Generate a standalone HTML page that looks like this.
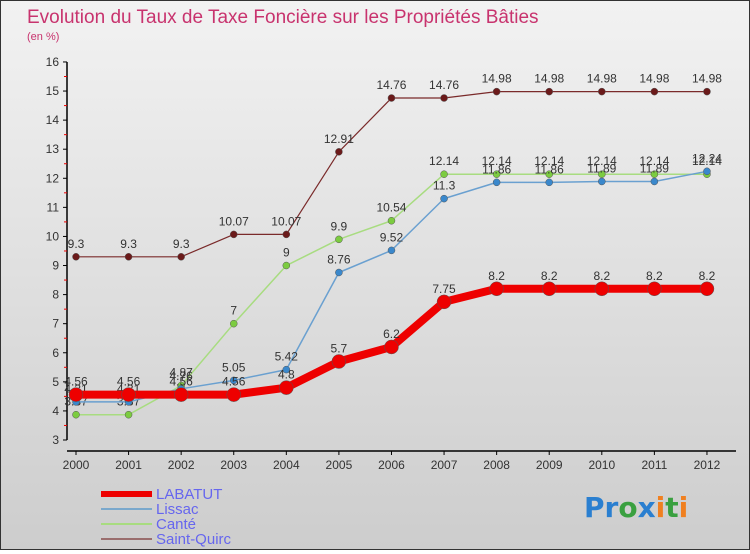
<!DOCTYPE html>
<html><head><meta charset="utf-8"><style>
body{margin:0;width:750px;height:550px;overflow:hidden;font-family:"Liberation Sans",sans-serif}
#c{position:absolute;left:0;top:0;width:748px;height:548px;border:1px solid #333;background:linear-gradient(#f2f2f2,#cdcdcd)}
</style></head><body>
<div id="c">
<svg id="s" width="748" height="548" font-family="Liberation Sans, sans-serif">
<text x="26" y="22" font-size="19" fill="#c8336e">Evolution du Taux de Taxe Foncière sur les Propriétés Bâties</text>
<text x="26" y="39" font-size="11" fill="#c8336e">(en %)</text>
<g id="axes"></g><g id="series"></g><g id="legend"></g>
<text x="583" y="516" font-size="28" font-family="DejaVu Sans, sans-serif" font-weight="bold"><tspan fill="#2a7fd0">Pr</tspan><tspan fill="#3aa040">o</tspan><tspan fill="#2a7fd0">x</tspan><tspan fill="#f08020">i</tspan><tspan fill="#3aa040">t</tspan><tspan fill="#f08020">i</tspan></text>
</svg></div>
<script>
const years=[2000,2001,2002,2003,2004,2005,2006,2007,2008,2009,2010,2011,2012];
const labatut=[4.56,4.56,4.56,4.56,4.8,5.7,6.2,7.75,8.2,8.2,8.2,8.2,8.2];
const lissac=[4.31,4.31,4.76,5.05,5.42,8.76,9.52,11.3,11.86,11.86,11.89,11.89,12.24];
const cante=[3.87,3.87,4.87,7,9,9.9,10.54,12.14,12.14,12.14,12.14,12.14,12.14];
const quirc=[9.3,9.3,9.3,10.07,10.07,12.91,14.76,14.76,14.98,14.98,14.98,14.98,14.98];
const yTicks=[3,4,5,6,7,8,9,10,11,12,13,14,15,16];
const NS='http://www.w3.org/2000/svg';
const X=i=>75+i*52.58, Y=v=>439-(v-3)*29.08;
function mk(p,t,a){const e=document.createElementNS(NS,t);for(const k in a)e.setAttribute(k,a[k]);p.appendChild(e);return e;}
const ax=document.getElementById('axes');
const yl=mk(ax,'line',{x1:66,y1:Y(16),x2:66,y2:439,stroke:'#000','stroke-width':1.5});


const xl=mk(ax,'line',{x1:66,y1:450,x2:735,y2:450,stroke:'#000','stroke-width':1.5});


yTicks.forEach(v=>{
 mk(ax,'line',{x1:62,x2:66,y1:Y(v),y2:Y(v),stroke:'#000'});
 if(v<16) mk(ax,'line',{x1:63,x2:66,y1:Y(v+0.5),y2:Y(v+0.5),stroke:'#e00'});
 const t=mk(ax,'text',{x:58,y:Y(v)+4,'font-size':12,'text-anchor':'end',fill:'#333'});
 t.textContent=v;
 
 
});
years.forEach((y,i)=>{
 mk(ax,'line',{x1:X(i),x2:X(i),y1:450,y2:454,stroke:'#000'});
 const t=mk(ax,'text',{x:X(i),y:468,'font-size':12,'text-anchor':'middle',fill:'#333'});
 t.textContent=y;
 
 
});
const sg=document.getElementById('series');
function draw(vals,name,color,w,r,dot){
 const g=mk(sg,'g',{});
 
 
 const l=mk(g,'polyline',{points:vals.map((v,i)=>X(i)+','+Y(v)).join(' '),fill:'none',stroke:color,'stroke-width':w,'stroke-linejoin':'round'});
 
 
 vals.forEach((v,i)=>{
  const c=mk(g,'circle',{cx:X(i),cy:Y(v),r:r,fill:dot,stroke:'#555','stroke-width':0.5});
  
  
  const t=mk(g,'text',{x:X(i),y:Y(v)-9,'font-size':12,'text-anchor':'middle',fill:'#333'});
  t.textContent=v;
  
  
 });
}
draw(quirc,'saint-quirc','#7a2a2a',1.2,3.5,'#6b1a1a');
draw(cante,'cante','#a8dc80',1.5,3.5,'#7ccc40');
draw(lissac,'lissac','#6aa0d0',1.5,3.5,'#3a88cc');
draw(labatut,'labatut','#ee0000',8,7,'#ee0000');
const lg=document.getElementById('legend');
[['LABATUT','#ee0000',6],['Lissac','#7aa8cc',2],['Canté','#a8dc80',2],['Saint-Quirc','#9a6e6e',2]].forEach((d,i)=>{
 const y=492+i*15;
 mk(lg,'line',{x1:100,x2:151,y1:y+1,y2:y+1,stroke:d[1],'stroke-width':d[2]});
 const t=mk(lg,'text',{x:155,y:y+6,'font-size':15,fill:'#6666ee'});
 t.textContent=d[0];
 
 
});
</script>
</body></html>
